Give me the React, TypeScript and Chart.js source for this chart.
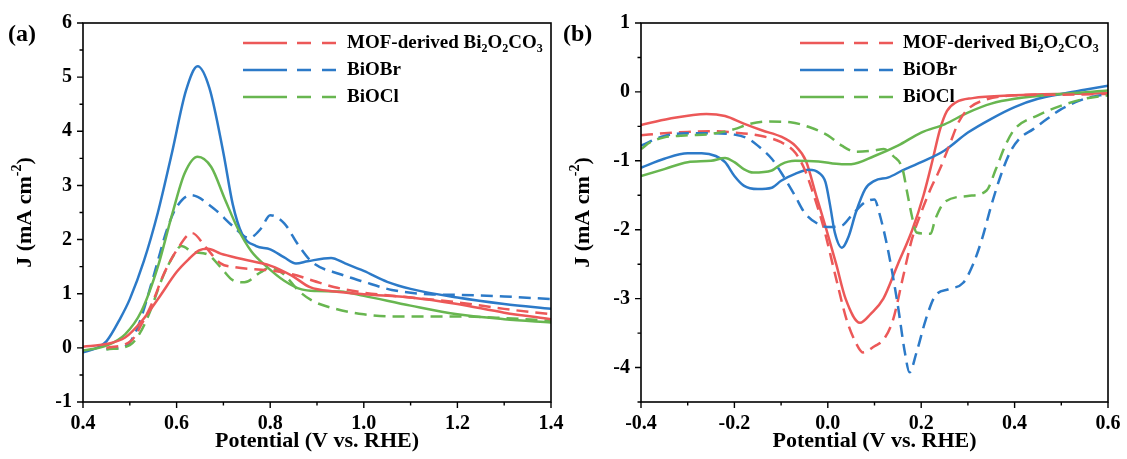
import React, { useEffect, useRef } from "react";
import { Chart, registerables } from "chart.js";

Chart.register(...registerables);

const SERIF = "'Liberation Serif', 'Times New Roman', serif";
const RED = "rgb(236,88,88)";
const BLUE = "rgb(44,122,200)";
const GREEN = "rgb(104,182,80)";

// ---------- Panel (a) ----------
const aRedSolidX = [0.40, 0.45, 0.49, 0.526, 0.564, 0.60, 0.625, 0.648, 0.667, 0.694, 0.74, 0.80, 0.847, 0.885, 0.938, 1.00, 1.10, 1.20, 1.30, 1.40];
const aRedSolidY = [0.02, 0.07, 0.19, 0.5, 0.95, 1.4, 1.63, 1.80, 1.83, 1.74, 1.64, 1.52, 1.33, 1.12, 1.04, 0.99, 0.93, 0.81, 0.65, 0.53];
const aRedDashX = [0.45, 0.503, 0.526, 0.549, 0.572, 0.60, 0.633, 0.663, 0.694, 0.724, 0.80, 0.847, 0.892, 0.938, 1.00, 1.10, 1.20, 1.30, 1.40];
const aRedDashY = [0.0, 0.13, 0.45, 0.85, 1.35, 1.8, 2.12, 1.85, 1.56, 1.49, 1.43, 1.36, 1.24, 1.12, 1.02, 0.93, 0.84, 0.72, 0.62];
const aBlueSolidX = [0.40, 0.43, 0.45, 0.48, 0.50, 0.53, 0.56, 0.59, 0.62, 0.645, 0.67, 0.70, 0.72, 0.74, 0.77, 0.80, 0.83, 0.855, 0.88, 0.93, 0.96, 1.00, 1.05, 1.10, 1.20, 1.30, 1.40];
const aBlueSolidY = [-0.08, 0.0, 0.12, 0.55, 0.9, 1.6, 2.5, 3.6, 4.75, 5.2, 4.8, 3.6, 2.65, 2.1, 1.88, 1.82, 1.67, 1.56, 1.6, 1.66, 1.56, 1.42, 1.22, 1.09, 0.93, 0.81, 0.72];
const aBlueDashX = [0.45, 0.48, 0.50, 0.52, 0.55, 0.58, 0.60, 0.63, 0.68, 0.72, 0.755, 0.78, 0.80, 0.83, 0.86, 0.89, 0.95, 1.00, 1.06, 1.14, 1.20, 1.30, 1.40];
const aBlueDashY = [-0.02, 0.0, 0.1, 0.45, 1.3, 2.2, 2.6, 2.82, 2.57, 2.25, 2.03, 2.2, 2.45, 2.3, 1.9, 1.58, 1.36, 1.22, 1.07, 0.99, 0.98, 0.95, 0.9];
const aGreenSolidX = [0.40, 0.45, 0.49, 0.525, 0.56, 0.59, 0.617, 0.645, 0.674, 0.703, 0.731, 0.76, 0.79, 0.83, 0.867, 0.90, 0.95, 1.00, 1.10, 1.20, 1.30, 1.40];
const aGreenSolidY = [-0.05, 0.04, 0.25, 0.68, 1.5, 2.45, 3.22, 3.53, 3.34, 2.75, 2.2, 1.78, 1.52, 1.24, 1.08, 1.05, 1.04, 0.96, 0.78, 0.62, 0.53, 0.47];
const aGreenDashX = [0.45, 0.50, 0.52, 0.54, 0.57, 0.595, 0.61, 0.635, 0.665, 0.695, 0.72, 0.745, 0.78, 0.80, 0.83, 0.86, 0.89, 0.94, 1.00, 1.06, 1.20, 1.30, 1.40];
const aGreenDashY = [-0.03, 0.05, 0.25, 0.6, 1.3, 1.73, 1.88, 1.77, 1.73, 1.48, 1.25, 1.21, 1.4, 1.48, 1.35, 1.06, 0.87, 0.72, 0.62, 0.58, 0.58, 0.55, 0.5];

const aXTicks = [0.4, 0.6, 0.8, 1.0, 1.2, 1.4];
const aXMinor = [0.5, 0.7, 0.9, 1.1, 1.3];
const aYTicks = [-1, 0, 1, 2, 3, 4, 5, 6];
const aYMinor = [-0.5, 0.5, 1.5, 2.5, 3.5, 4.5, 5.5];

// ---------- Panel (b) ----------
const bRedSolidX = [-0.40, -0.34, -0.26, -0.22, -0.18, -0.14, -0.10, -0.07, -0.047, -0.025, -0.003, 0.018, 0.038, 0.069, 0.092, 0.119, 0.15, 0.181, 0.205, 0.224, 0.24, 0.255, 0.275, 0.31, 0.40, 0.50, 0.60];
const bRedSolidY = [-0.48, -0.39, -0.32, -0.35, -0.46, -0.56, -0.65, -0.78, -1.0, -1.5, -2.0, -2.5, -3.0, -3.35, -3.22, -3.0, -2.5, -2.0, -1.5, -1.0, -0.55, -0.28, -0.15, -0.09, -0.05, -0.03, -0.02];
const bRedDashX = [-0.40, -0.35, -0.30, -0.25, -0.20, -0.15, -0.10, -0.07, -0.05, -0.03, -0.01, 0.02, 0.04, 0.06, 0.075, 0.10, 0.12, 0.14, 0.16, 0.18, 0.20, 0.22, 0.24, 0.26, 0.28, 0.30, 0.33, 0.40, 0.50, 0.60];
const bRedDashY = [-0.63, -0.6, -0.58, -0.57, -0.59, -0.63, -0.73, -0.88, -1.12, -1.5, -1.94, -2.77, -3.3, -3.64, -3.78, -3.69, -3.59, -3.3, -2.72, -2.14, -1.75, -1.41, -1.12, -0.78, -0.44, -0.25, -0.13, -0.05, -0.04, -0.03];
const bBlueSolidX = [-0.40, -0.35, -0.30, -0.27, -0.24, -0.22, -0.20, -0.18, -0.15, -0.12, -0.10, -0.07, -0.04, -0.02, -0.005, 0.005, 0.015, 0.03, 0.045, 0.06, 0.08, 0.10, 0.13, 0.16, 0.20, 0.25, 0.30, 0.35, 0.40, 0.45, 0.50, 0.55, 0.60];
const bBlueSolidY = [-1.1, -0.97, -0.89, -0.89, -0.93, -1.02, -1.22, -1.36, -1.41, -1.39, -1.29, -1.19, -1.13, -1.17, -1.31, -1.65, -2.04, -2.26, -2.09, -1.75, -1.41, -1.29, -1.24, -1.14, -1.02, -0.85, -0.59, -0.39, -0.22, -0.1, -0.03, 0.03, 0.09];
const bBlueDashX = [-0.40, -0.35, -0.30, -0.25, -0.20, -0.17, -0.15, -0.12, -0.10, -0.07, -0.05, -0.02, 0.0, 0.03, 0.05, 0.08, 0.10, 0.11, 0.13, 0.15, 0.165, 0.175, 0.19, 0.21, 0.23, 0.26, 0.29, 0.31, 0.33, 0.35, 0.37, 0.39, 0.41, 0.44, 0.47, 0.50, 0.55, 0.60];
const bBlueDashY = [-0.78, -0.64, -0.6, -0.6, -0.62, -0.68, -0.78, -0.97, -1.17, -1.51, -1.75, -1.92, -1.96, -1.94, -1.8, -1.6, -1.56, -1.75, -2.33, -3.1, -3.78, -4.07, -3.78, -3.3, -2.96, -2.86, -2.77, -2.52, -2.14, -1.65, -1.22, -0.88, -0.68, -0.54, -0.39, -0.25, -0.1, -0.03];
const bGreenSolidX = [-0.40, -0.35, -0.30, -0.25, -0.22, -0.20, -0.18, -0.16, -0.12, -0.10, -0.07, -0.02, 0.03, 0.05, 0.10, 0.15, 0.20, 0.25, 0.30, 0.35, 0.40, 0.50, 0.60];
const bGreenSolidY = [-1.22, -1.12, -1.02, -1.0, -0.96, -1.02, -1.12, -1.17, -1.14, -1.05, -1.0, -1.01, -1.05, -1.05, -0.93, -0.78, -0.59, -0.47, -0.3, -0.17, -0.1, -0.03, 0.02];
const bGreenDashX = [-0.40, -0.38, -0.35, -0.30, -0.25, -0.20, -0.17, -0.13, -0.08, -0.04, 0.0, 0.03, 0.06, 0.10, 0.12, 0.14, 0.16, 0.17, 0.18, 0.19, 0.22, 0.23, 0.25, 0.30, 0.34, 0.36, 0.38, 0.40, 0.45, 0.50, 0.55, 0.60];
const bGreenDashY = [-0.83, -0.73, -0.66, -0.63, -0.61, -0.54, -0.47, -0.43, -0.44, -0.51, -0.63, -0.78, -0.87, -0.85, -0.83, -0.93, -1.12, -1.46, -1.8, -2.04, -2.06, -1.85, -1.6, -1.51, -1.43, -1.12, -0.78, -0.54, -0.34, -0.2, -0.1, -0.05];

const bXTicks = [-0.4, -0.2, 0.0, 0.2, 0.4, 0.6];
const bXMinor = [-0.3, -0.1, 0.1, 0.3, 0.5];
const bYTicks = [-4, -3, -2, -1, 0, 1];
const bYMinor = [-4.5, -3.5, -2.5, -1.5, -0.5, 0.5];

const legendNames = ["MOF-derived Bi|2|O|2|CO|3", "BiOBr", "BiOCl"];
const legendColors = [RED, BLUE, GREEN];

const pts = (xs: number[], ys: number[]) => xs.map((x, i) => ({ x, y: ys[i] }));

type Spec = {
  width: number;
  areaLeft: number;
  areaRight: number;
  xMin: number; xMax: number; yMin: number; yMax: number;
  xTicks: number[]; xMinor: number[]; yTicks: number[]; yMinor: number[];
  label: string; labelX: number;
  legendLineX: number; legendTextX: number;
  series: { xs: number[]; ys: number[]; color: string; dashed: boolean }[];
};

const AREA_TOP = 23;
const AREA_BOTTOM = 402;
const H = 459;

function drawRich(ctx: CanvasRenderingContext2D, text: string, x: number, y: number, size: number) {
  const parts = text.split("|");
  let cx = x;
  parts.forEach((p, i) => {
    if (i % 2 === 1) {
      ctx.font = `bold ${Math.round(size * 0.62)}px ${SERIF}`;
      ctx.fillText(p, cx, y + size * 0.3);
    } else {
      ctx.font = `bold ${size}px ${SERIF}`;
      ctx.fillText(p, cx, y);
    }
    cx += ctx.measureText(p).width;
  });
}

function decor(spec: Spec) {
  return {
    id: "decor",
    afterDraw(chart: any) {
      const ctx: CanvasRenderingContext2D = chart.ctx;
      const { left, right, top, bottom } = chart.chartArea;
      const xs = chart.scales.x;
      const ys = chart.scales.y;
      ctx.save();
      ctx.strokeStyle = "#000";
      ctx.fillStyle = "#000";
      ctx.lineWidth = 1.6;
      ctx.strokeRect(left, top, right - left, bottom - top);
      ctx.lineWidth = 1.4;
      ctx.beginPath();
      spec.xTicks.forEach((v) => { const p = xs.getPixelForValue(v); ctx.moveTo(p, bottom); ctx.lineTo(p, bottom + 6); });
      spec.xMinor.forEach((v) => { const p = xs.getPixelForValue(v); ctx.moveTo(p, bottom); ctx.lineTo(p, bottom + 3.5); });
      spec.yTicks.forEach((v) => { const p = ys.getPixelForValue(v); ctx.moveTo(left, p); ctx.lineTo(left - 6, p); });
      spec.yMinor.forEach((v) => { const p = ys.getPixelForValue(v); ctx.moveTo(left, p); ctx.lineTo(left - 3.5, p); });
      ctx.stroke();

      ctx.textAlign = "center";
      ctx.textBaseline = "middle";
      ctx.font = `bold 22px ${SERIF}`;
      ctx.fillText("Potential (V vs. RHE)", (left + right) / 2, 441);

      ctx.save();
      ctx.translate(left - 58, (top + bottom) / 2);
      ctx.rotate(-Math.PI / 2);
      ctx.textAlign = "left";
      const f1 = `bold 22px ${SERIF}`;
      const f2 = `bold 14px ${SERIF}`;
      ctx.font = f1;
      const w1 = ctx.measureText("J (mA cm").width;
      const w3 = ctx.measureText(")").width;
      ctx.font = f2;
      const w2 = ctx.measureText("-2").width;
      let sx = -(w1 + w2 + w3) / 2;
      ctx.font = f1;
      ctx.fillText("J (mA cm", sx, 0);
      sx += w1;
      ctx.font = f2;
      ctx.fillText("-2", sx, -8);
      sx += w2;
      ctx.font = f1;
      ctx.fillText(")", sx, 0);
      ctx.restore();

      ctx.textAlign = "left";
      ctx.textBaseline = "middle";
      ctx.font = `bold 24px ${SERIF}`;
      ctx.fillText(spec.label, spec.labelX, 35);

      const rows = [43, 70, 97];
      rows.forEach((ry, i) => {
        ctx.strokeStyle = legendColors[i];
        ctx.lineWidth = 2.5;
        ctx.beginPath();
        const lx = spec.legendLineX;
        ctx.moveTo(lx, ry); ctx.lineTo(lx + 44, ry);
        ctx.moveTo(lx + 54, ry); ctx.lineTo(lx + 68, ry);
        ctx.moveTo(lx + 79, ry); ctx.lineTo(lx + 93, ry);
        ctx.stroke();
        ctx.fillStyle = "#000";
        ctx.textAlign = "left";
        ctx.textBaseline = "middle";
        drawRich(ctx, legendNames[i], spec.legendTextX, ry, 19);
      });
      ctx.restore();
    },
  };
}

function buildConfig(spec: Spec): any {
  const tickFont = { family: SERIF, size: 20, weight: "bold" as const };
  return {
    type: "line",
    data: {
      datasets: spec.series.map((s) => ({
        data: pts(s.xs, s.ys),
        borderColor: s.color,
        backgroundColor: s.color,
        borderWidth: 2.5,
        borderDash: s.dashed ? [12, 7] : [],
        pointRadius: 0,
        fill: false,
        cubicInterpolationMode: "monotone",
      })),
    },
    options: {
      animation: false,
      responsive: false,
      maintainAspectRatio: false,
      events: [],
      layout: { padding: { left: 0, top: AREA_TOP, right: spec.width - spec.areaRight, bottom: 0 } },
      plugins: { legend: { display: false }, tooltip: { enabled: false }, title: { display: false } },
      scales: {
        x: {
          type: "linear",
          min: spec.xMin,
          max: spec.xMax,
          grid: { display: false, drawTicks: false, tickLength: 0 },
          border: { display: false },
          afterBuildTicks: (s: any) => { s.ticks = spec.xTicks.map((v) => ({ value: v })); },
          ticks: {
            color: "#000",
            font: tickFont,
            padding: 10,
            maxRotation: 0,
            autoSkip: false,
            callback: (v: any) => (Math.abs(Number(v)) < 1e-9 ? 0 : Number(v)).toFixed(1),
          },
          afterFit: (s: any) => { s.height = H - AREA_BOTTOM; s.paddingLeft = 0; s.paddingRight = 0; },
        },
        y: {
          type: "linear",
          min: spec.yMin,
          max: spec.yMax,
          grid: { display: false, drawTicks: false, tickLength: 0 },
          border: { display: false },
          afterBuildTicks: (s: any) => { s.ticks = spec.yTicks.map((v) => ({ value: v })); },
          ticks: {
            color: "#000",
            font: tickFont,
            padding: 11,
            autoSkip: false,
            callback: (v: any) => String(Math.round(Number(v))),
          },
          afterFit: (s: any) => { s.width = spec.areaLeft; s.paddingTop = 0; s.paddingBottom = 0; },
        },
      },
    },
    plugins: [decor(spec)],
  };
}

const specA: Spec = {
  width: 580,
  areaLeft: 83,
  areaRight: 551,
  xMin: 0.4, xMax: 1.4, yMin: -1, yMax: 6,
  xTicks: aXTicks, xMinor: aXMinor, yTicks: aYTicks, yMinor: aYMinor,
  label: "(a)", labelX: 8,
  legendLineX: 243, legendTextX: 347,
  series: [
    { xs: aRedSolidX, ys: aRedSolidY, color: RED, dashed: false },
    { xs: aRedDashX, ys: aRedDashY, color: RED, dashed: true },
    { xs: aGreenSolidX, ys: aGreenSolidY, color: GREEN, dashed: false },
    { xs: aGreenDashX, ys: aGreenDashY, color: GREEN, dashed: true },
    { xs: aBlueDashX, ys: aBlueDashY, color: BLUE, dashed: true },
    { xs: aBlueSolidX, ys: aBlueSolidY, color: BLUE, dashed: false },
  ],
};

const specB: Spec = {
  width: 567,
  areaLeft: 81,
  areaRight: 548,
  xMin: -0.4, xMax: 0.6, yMin: -4.5, yMax: 1,
  xTicks: bXTicks, xMinor: bXMinor, yTicks: bYTicks, yMinor: bYMinor,
  label: "(b)", labelX: 3,
  legendLineX: 800 - 560, legendTextX: 903 - 560,
  series: [
    { xs: bGreenDashX, ys: bGreenDashY, color: GREEN, dashed: true },
    { xs: bBlueDashX, ys: bBlueDashY, color: BLUE, dashed: true },
    { xs: bRedDashX, ys: bRedDashY, color: RED, dashed: true },
    { xs: bGreenSolidX, ys: bGreenSolidY, color: GREEN, dashed: false },
    { xs: bBlueSolidX, ys: bBlueSolidY, color: BLUE, dashed: false },
    { xs: bRedSolidX, ys: bRedSolidY, color: RED, dashed: false },
  ],
};

function Panel({ spec, left }: { spec: Spec; left: number }) {
  const ref = useRef<HTMLCanvasElement | null>(null);
  useEffect(() => {
    if (!ref.current) return;
    const chart = new Chart(ref.current, buildConfig(spec));
    return () => chart.destroy();
  }, [spec]);
  return (
    <canvas
      ref={ref}
      width={spec.width}
      height={H}
      style={{ position: "absolute", left, top: 0, width: spec.width, height: H }}
    />
  );
}

export default function App() {
  return (
    <div style={{ position: "absolute", left: 0, top: 0, width: 1127, height: H, background: "#fff", overflow: "hidden" }}>
      <Panel spec={specA} left={0} />
      <Panel spec={specB} left={560} />
    </div>
  );
}
